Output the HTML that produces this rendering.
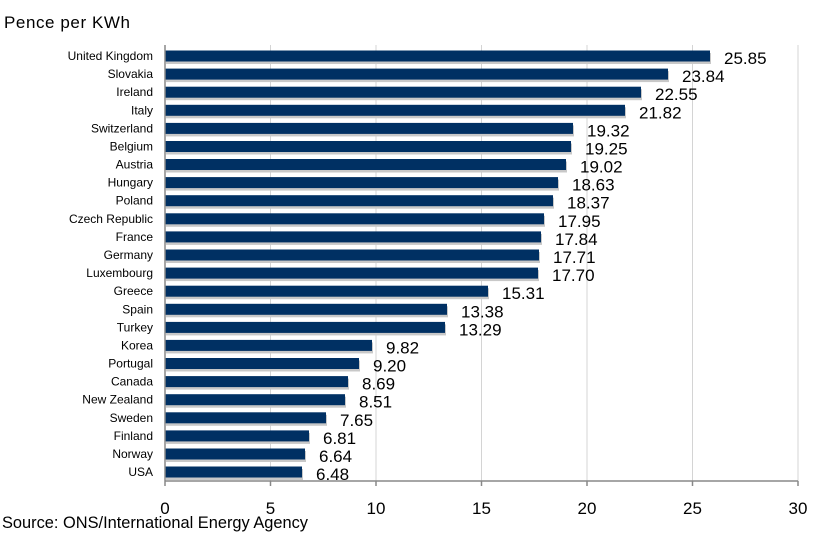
<!DOCTYPE html>
<html><head><meta charset="utf-8"><style>
html,body{margin:0;padding:0;background:#fff;}
svg{display:block;font-family:"Liberation Sans",sans-serif;}
.c{font-size:12px;fill:#000;text-anchor:end;}
.v{font-size:17px;fill:#000;}
.t{font-size:17px;fill:#000;text-anchor:middle;}
.b{fill:#003063;}
.s{fill:#c8c8c8;}
</style></head><body>
<svg width="826" height="539" viewBox="0 0 826 539">
<text x="4" y="28" font-size="17" textLength="126">Pence per KWh</text>
<g stroke="#d4d4d4" stroke-width="1">
<line x1="270.5" y1="45" x2="270.5" y2="481"/><line x1="376" y1="45" x2="376" y2="481"/>
<line x1="481.5" y1="45" x2="481.5" y2="481"/><line x1="587" y1="45" x2="587" y2="481"/>
<line x1="692.5" y1="45" x2="692.5" y2="481"/><line x1="798" y1="45" x2="798" y2="481"/>
</g>
<g>
<rect class="s" x="166" y="53" width="545" height="11"/><rect class="b" x="165" y="50.5" width="545" height="11"/><text class="c" x="153" y="60">United Kingdom</text><text class="v" x="724" y="64">25.85</text>
<rect class="s" x="166" y="71.1" width="503" height="11"/><rect class="b" x="165" y="68.6" width="503" height="11"/><text class="c" x="153" y="78.1">Slovakia</text><text class="v" x="682" y="82.1">23.84</text>
<rect class="s" x="166" y="89.2" width="476" height="11"/><rect class="b" x="165" y="86.7" width="476" height="11"/><text class="c" x="153" y="96.2">Ireland</text><text class="v" x="655" y="100.2">22.55</text>
<rect class="s" x="166" y="107.3" width="460" height="11"/><rect class="b" x="165" y="104.8" width="460" height="11"/><text class="c" x="153" y="114.3">Italy</text><text class="v" x="639" y="118.3">21.82</text>
<rect class="s" x="166" y="125.4" width="408" height="11"/><rect class="b" x="165" y="122.9" width="408" height="11"/><text class="c" x="153" y="132.4">Switzerland</text><text class="v" x="587" y="136.4">19.32</text>
<rect class="s" x="166" y="143.5" width="406" height="11"/><rect class="b" x="165" y="141" width="406" height="11"/><text class="c" x="153" y="150.5">Belgium</text><text class="v" x="585" y="154.5">19.25</text>
<rect class="s" x="166" y="161.5" width="401" height="11"/><rect class="b" x="165" y="159" width="401" height="11"/><text class="c" x="153" y="168.5">Austria</text><text class="v" x="580" y="172.5">19.02</text>
<rect class="s" x="166" y="179.6" width="393" height="11"/><rect class="b" x="165" y="177.1" width="393" height="11"/><text class="c" x="153" y="186.6">Hungary</text><text class="v" x="572" y="190.6">18.63</text>
<rect class="s" x="166" y="197.7" width="388" height="11"/><rect class="b" x="165" y="195.2" width="388" height="11"/><text class="c" x="153" y="204.7">Poland</text><text class="v" x="567" y="208.7">18.37</text>
<rect class="s" x="166" y="215.8" width="379" height="11"/><rect class="b" x="165" y="213.3" width="379" height="11"/><text class="c" x="153" y="222.8">Czech Republic</text><text class="v" x="558" y="226.8">17.95</text>
<rect class="s" x="166" y="233.9" width="376" height="11"/><rect class="b" x="165" y="231.4" width="376" height="11"/><text class="c" x="153" y="240.9">France</text><text class="v" x="555" y="244.9">17.84</text>
<rect class="s" x="166" y="252" width="374" height="11"/><rect class="b" x="165" y="249.5" width="374" height="11"/><text class="c" x="153" y="259">Germany</text><text class="v" x="553" y="263">17.71</text>
<rect class="s" x="166" y="270.1" width="373" height="11"/><rect class="b" x="165" y="267.6" width="373" height="11"/><text class="c" x="153" y="277.1">Luxembourg</text><text class="v" x="552" y="281.1">17.70</text>
<rect class="s" x="166" y="288.2" width="323" height="11"/><rect class="b" x="165" y="285.7" width="323" height="11"/><text class="c" x="153" y="295.2">Greece</text><text class="v" x="502" y="299.2">15.31</text>
<rect class="s" x="166" y="306.3" width="282" height="11"/><rect class="b" x="165" y="303.8" width="282" height="11"/><text class="c" x="153" y="313.3">Spain</text><text class="v" x="461" y="317.3">13.38</text>
<rect class="s" x="166" y="324.4" width="280" height="11"/><rect class="b" x="165" y="321.9" width="280" height="11"/><text class="c" x="153" y="331.4">Turkey</text><text class="v" x="459" y="335.4">13.29</text>
<rect class="s" x="166" y="342.4" width="207" height="11"/><rect class="b" x="165" y="339.9" width="207" height="11"/><text class="c" x="153" y="349.4">Korea</text><text class="v" x="386" y="353.4">9.82</text>
<rect class="s" x="166" y="360.5" width="194" height="11"/><rect class="b" x="165" y="358" width="194" height="11"/><text class="c" x="153" y="367.5">Portugal</text><text class="v" x="373" y="371.5">9.20</text>
<rect class="s" x="166" y="378.6" width="183" height="11"/><rect class="b" x="165" y="376.1" width="183" height="11"/><text class="c" x="153" y="385.6">Canada</text><text class="v" x="362" y="389.6">8.69</text>
<rect class="s" x="166" y="396.7" width="180" height="11"/><rect class="b" x="165" y="394.2" width="180" height="11"/><text class="c" x="153" y="403.7">New Zealand</text><text class="v" x="359" y="407.7">8.51</text>
<rect class="s" x="166" y="414.8" width="161" height="11"/><rect class="b" x="165" y="412.3" width="161" height="11"/><text class="c" x="153" y="421.8">Sweden</text><text class="v" x="340" y="425.8">7.65</text>
<rect class="s" x="166" y="432.9" width="144" height="11"/><rect class="b" x="165" y="430.4" width="144" height="11"/><text class="c" x="153" y="439.9">Finland</text><text class="v" x="323" y="443.9">6.81</text>
<rect class="s" x="166" y="451" width="140" height="11"/><rect class="b" x="165" y="448.5" width="140" height="11"/><text class="c" x="153" y="458">Norway</text><text class="v" x="319" y="462">6.64</text>
<rect class="s" x="166" y="469" width="137" height="11"/><rect class="b" x="165" y="466.5" width="137" height="11"/><text class="c" x="153" y="476">USA</text><text class="v" x="316" y="480">6.48</text>
</g>
<g stroke="#888" stroke-width="1.5">
<line x1="165" y1="45" x2="165" y2="486"/>
<line x1="165" y1="481" x2="798" y2="481"/>
<line x1="270.5" y1="481" x2="270.5" y2="486"/><line x1="376" y1="481" x2="376" y2="486"/>
<line x1="481.5" y1="481" x2="481.5" y2="486"/><line x1="587" y1="481" x2="587" y2="486"/>
<line x1="692.5" y1="481" x2="692.5" y2="486"/><line x1="798" y1="481" x2="798" y2="486"/>
</g>
<text class="t" x="165" y="514">0</text><text class="t" x="270.5" y="514">5</text>
<text class="t" x="376" y="514">10</text><text class="t" x="481.5" y="514">15</text>
<text class="t" x="587" y="514">20</text><text class="t" x="692.5" y="514">25</text>
<text class="t" x="798" y="514">30</text>
<text x="2" y="528" font-size="17" textLength="306" lengthAdjust="spacingAndGlyphs">Source: ONS/International Energy Agency</text>
</svg>
</body></html>
